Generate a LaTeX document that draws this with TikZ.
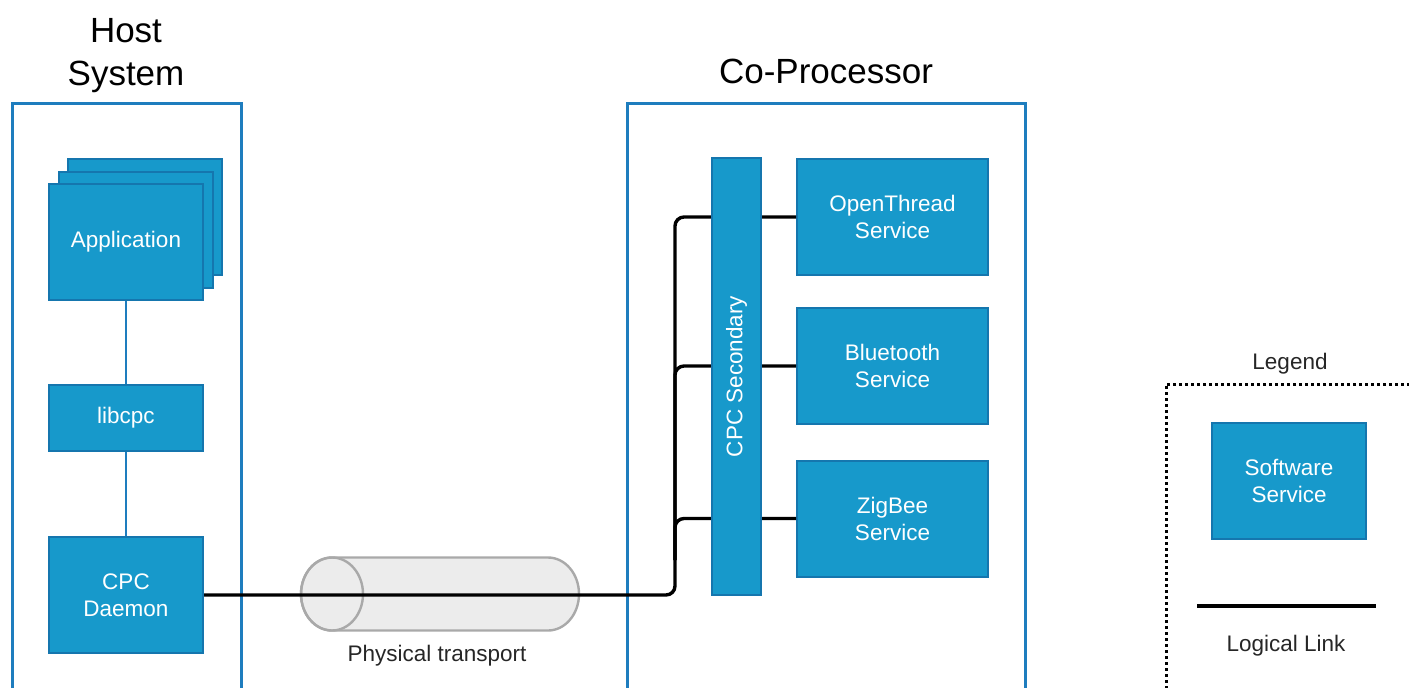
\documentclass[tikz,border=0pt]{standalone}
\usepackage{fontspec}
\setmainfont{Liberation Sans}
\definecolor{boxfill}{HTML}{1799CB}
\definecolor{boxline}{HTML}{1576AE}
\definecolor{frameblue}{HTML}{1E7DBE}
\definecolor{cylfill}{HTML}{ECECEC}
\definecolor{cylline}{HTML}{A9A9A9}
\begin{document}
\begin{tikzpicture}[x=0.5pt,y=-0.5pt,
  svc/.style={draw=boxline, line width=1pt, fill=boxfill, text=white,
    font=\fontsize{11.25}{13.5}\selectfont, align=center, inner sep=0pt},
  frame/.style={draw=frameblue, line width=1.5pt, inner sep=0pt},
  ttl/.style={font=\fontsize{17.5}{21.5}\selectfont, align=center},
  lbl/.style={font=\fontsize{11.25}{13.5}\selectfont, text=black!85},
  link/.style={draw=black, line width=1.7pt},
  tie/.style={draw=frameblue, line width=1.2pt},
  smallbox/.style={minimum width=77pt, minimum height=58pt},
  svcbox/.style={minimum width=95.5pt, minimum height=58pt}]
\useasboundingbox (0,0) rectangle (1409,687);
\clip (0,0) rectangle (1409,687);

% containers
\node[frame, minimum width=114.5pt, minimum height=298.5pt] (host) at (126.5,401.5) {};
\node[ttl] (hosttitle) at (126,56) {Host\\System};
\node[frame, minimum width=199pt, minimum height=298.5pt] (cop) at (826,401.5) {};
\node[ttl] (coptitle) at (826,71) {Co-Processor};

% host side
\node[svc, smallbox] (app3) at (145,217) {};
\node[svc, smallbox] (app2) at (135.5,229.5) {};
\node[svc, smallbox] (app) at (126,241.5) {Application};
\node[svc, minimum width=77pt, minimum height=33pt] (libcpc) at (126,418) {libcpc};
\node[svc, smallbox] (daemon) at (126,595) {CPC\\Daemon};
\draw[tie] (app) -- (libcpc);
\draw[tie] (libcpc) -- (daemon);

% physical transport cylinder
\filldraw[fill=cylfill, draw=cylline, line width=1.2pt]
  (332,557.5) -- (548,557.5)
  arc[start angle=90, end angle=-90, x radius=15.5pt, y radius=18.25pt]
  -- (332,630.5)
  arc[start angle=270, end angle=90, x radius=15.5pt, y radius=18.25pt] -- cycle;
\draw[draw=cylline, line width=1.2pt] (332,594) ellipse[x radius=15.5pt, y radius=18.25pt];
\node[lbl] (phys) at (437,656) {Physical transport};

% co-processor services
\node[svc, svcbox] (ot) at (892.5,217) {OpenThread\\Service};
\node[svc, svcbox] (bt) at (892.5,366) {Bluetooth\\Service};
\node[svc, svcbox] (zb) at (892.5,518.5) {ZigBee\\Service};

% logical links
\coordinate (bus) at (675,595);
\coordinate (busup) at (675,560);
\draw[link, rounded corners=4.5pt] (daemon.east) -- (bus) |- (ot.west);
\draw[link, rounded corners=4.5pt] (busup) |- (bt.west);
\draw[link, rounded corners=4.5pt] (busup) |- (zb.west);

% CPC secondary bar
\node[svc, rotate=90, minimum width=218.5pt, minimum height=24.5pt] (bar) at (736.5,376.5) {CPC Secondary};

% legend
\node[lbl] (legendlbl) at (1290,364) {Legend};
\node[draw=black, line width=1.5pt, dash pattern=on 1.5pt off 1.5pt,
  minimum width=132pt, minimum height=161pt, inner sep=0pt] (legend) at (1298,545) {};
\node[svc, smallbox] (sw) at (1289,481) {Software\\Service};
\coordinate (ll1) at (1197,606);
\coordinate (ll2) at (1376,606);
\draw[link] (ll1) -- (ll2);
\node[lbl] (lltext) at (1286,646) {Logical Link};
\end{tikzpicture}
\end{document}
